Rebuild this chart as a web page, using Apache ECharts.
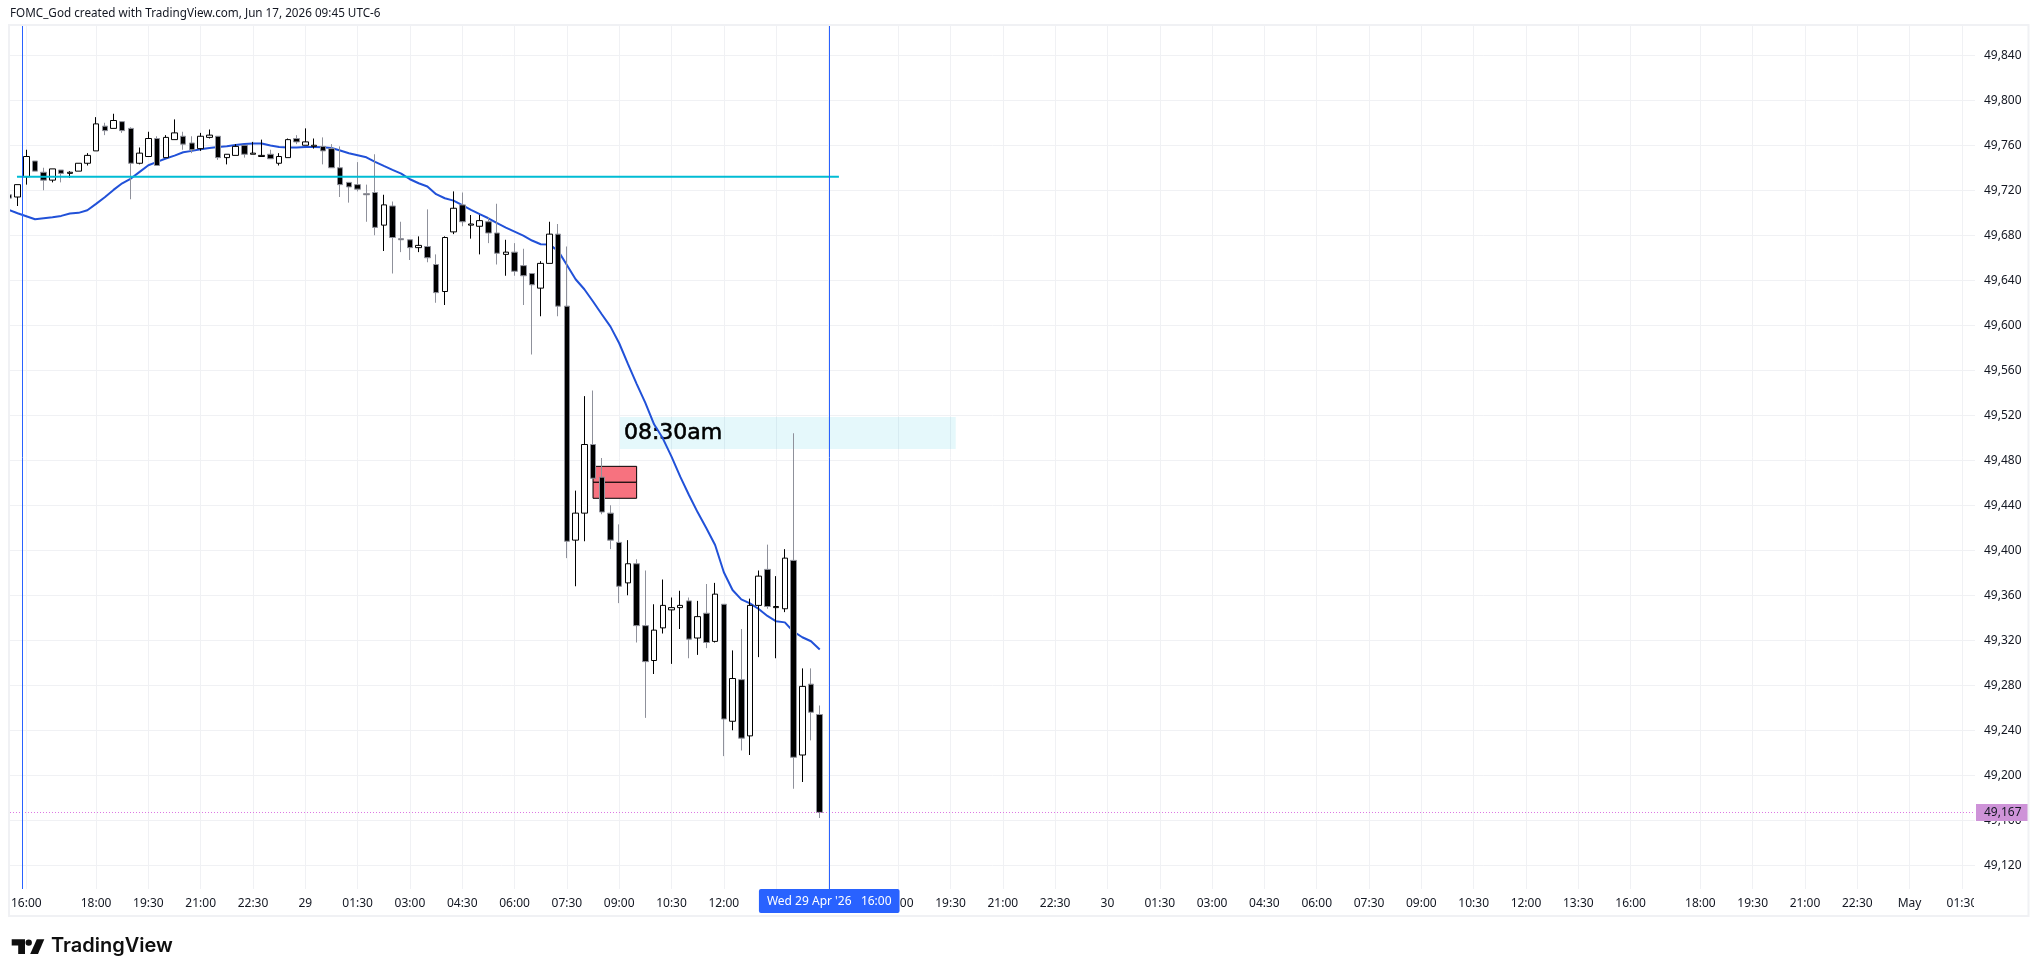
<!DOCTYPE html>
<html>
<head>
<meta charset="utf-8">
<style>html,body{margin:0;padding:0;background:#fff}#c{width:2039px;height:977px}</style>
<script src="https://cdn.jsdelivr.net/npm/echarts@6/dist/echarts.min.js"></script>
</head>
<body>
<div id="c"></div>
<script>
const FIRST_BAR = -2;
const opens = [49716,49714,49732,49746,49736,49729,49738,49735,49737,49744,49755,49777,49775,49781,49775,49744,49750,49766,49749,49765,49768,49762,49757,49767,49768,49749,49751,49760,49752,49750,49752,49744,49749,49766,49760,49759,49759,49757,49740,49727,49725,49717,49718,49689,49706,49677,49676,49669,49670,49654,49630,49683,49707,49689,49688,49692,49682,49663,49665,49653,49646,49633,49655,49681,49617,49409,49433,49494,49465,49433,49407,49371,49388,49333,49302,49331,49347,49349,49355,49322,49344,49319,49352,49248,49285,49235,49351,49383,49349,49348,49391,49218,49281,49254];
const closes = [49713,49725,49750,49737,49729,49739,49735,49736,49744,49751,49779,49773,49782,49773,49744,49753,49766,49742,49767,49771,49761,49756,49768,49769,49749,49752,49759,49752,49753,49751,49748,49750,49765,49763,49763,49760,49755,49740,49725,49723,49721,49716,49687,49707,49678,49676,49669,49671,49660,49629,49678,49704,49692,49690,49693,49682,49664,49665,49648,49644,49636,49655,49681,49617,49408,49433,49494,49464,49434,49409,49368,49388,49333,49301,49329,49351,49349,49351,49321,49341,49318,49361,49250,49286,49233,49351,49377,49350,49350,49393,49216,49279,49256,49167];
const lows = [49713,49706,49725,49737,49720,49727,49727,49731,49737,49742,49755,49769,49775,49771,49712,49743,49750,49742,49749,49765,49756,49753,49755,49766,49747,49743,49751,49749,49752,49750,49748,49742,49749,49761,49760,49757,49743,49740,49714,49709,49719,49692,49680,49666,49646,49665,49658,49665,49656,49620,49618,49681,49688,49677,49663,49673,49654,49644,49644,49618,49574,49608,49655,49608,49393,49368,49408,49464,49432,49401,49353,49360,49318,49251,49290,49326,49299,49330,49304,49307,49313,49318,49217,49240,49222,49218,49305,49348,49304,49345,49188,49194,49231,49162];
const highs = [49716,49725,49756,49746,49740,49739,49738,49737,49744,49753,49785,49780,49788,49781,49776,49758,49772,49768,49769,49783,49772,49768,49771,49774,49768,49752,49761,49760,49763,49765,49756,49753,49766,49769,49775,49766,49767,49761,49759,49727,49745,49725,49752,49716,49710,49692,49676,49679,49703,49663,49679,49719,49718,49698,49698,49696,49708,49676,49673,49668,49646,49657,49692,49690,49670,49453,49537,49542,49482,49440,49423,49409,49392,49382,49352,49374,49358,49364,49358,49355,49370,49371,49352,49311,49330,49357,49382,49405,49377,49401,49504,49295,49295,49262];
const maValues = [49702.5,49699.6,49696.9,49694.2,49695.1,49696,49697.2,49699.3,49699.9,49702.2,49707.9,49713.8,49720.3,49726.2,49730.4,49736.3,49742.2,49745.2,49748.2,49750.8,49753.8,49755,49756.5,49757.6,49758.5,49759.1,49760.3,49761.2,49761.5,49761.5,49759.7,49758.5,49757.9,49757.9,49758.5,49758.5,49758.2,49757.6,49755.3,49752.9,49751.1,49749.3,49745.2,49741.6,49738.1,49734.8,49729.8,49726.2,49723.3,49716.5,49712.9,49710.8,49706.7,49702.5,49698.7,49695.1,49690.7,49686.8,49683.3,49679.7,49675.3,49672,49671.7,49666.1,49653.6,49640.9,49632,49621.1,49609.8,49598.8,49584,49565.6,49547.9,49531,49512,49499.5,49483.2,49465.4,49449.1,49433.7,49419.5,49404.7,49380.4,49364.7,49356.4,49352.8,49347.8,49341.6,49336.8,49335.9,49327.6,49322.7,49319.1,49311.7];

const xTickBars = [0,8,14,20,26,32,38,44,50,56,62,68,74,80,86,92,100,106,112,118,124,130,136,142,148,154,160,166,172,178,184,192,198,204,210,216,222];
const xTickLabels = ['16:00','18:00','19:30','21:00','22:30','29','01:30','03:00','04:30','06:00','07:30','09:00','10:30','12:00','13:30','16:00','18:00','19:30','21:00','22:30','30','01:30','03:00','04:30','06:00','07:30','09:00','10:30','12:00','13:30','16:00','18:00','19:30','21:00','22:30','May','01:30'];
const yTicks = [49120,49160,49200,49240,49280,49320,49360,49400,49440,49480,49520,49560,49600,49640,49680,49720,49760,49800,49840];

const X_RANGE = [-1.87, 223.5];
const Y_RANGE = [49098.9, 49866];
const lastPrice = 49167;
const hLevel = 49732;
const hLevelSpan = [-1.07, 93.2];
const vLineBars = [-0.46, 92.09];
const crosshairLabel = "Wed 29 Apr '26   16:00";
const noteBox = {x: [68.08, 106.6], y: [49490, 49518.5], text: '08:30am'};
const redBoxX = [65, 70];
const redBoxY = [49446.2, 49460.4, 49474.6];
const headerText = 'FOMC_God created with TradingView.com, Jun 17, 2026 09:45 UTC-6';
const logoText = 'TradingView';

const FONT = '"Noto Sans", sans-serif';
const GRID = '#f0f1f4';
const bars = opens.map((o, k) => [FIRST_BAR + k, o, closes[k], lows[k], highs[k]]);
const ma = maValues.map((v, k) => [FIRST_BAR + k, v]);
const fmt = v => v.toLocaleString('en-US');

const chart = echarts.init(document.getElementById('c'), null, {renderer: 'canvas'});
chart.setOption({
  animation: false,
  backgroundColor: '#ffffff',
  title: {text: headerText, left: 10, top: 8, padding: 0,
    textStyle: {fontFamily: FONT, fontSize: 11.7, fontWeight: 'normal', color: '#131722'}},
  grid: {left: 10, right: 64, top: 26, height: 863, containLabel: false},
  xAxis: {
    type: 'value', min: X_RANGE[0], max: X_RANGE[1], position: 'bottom',
    axisLine: {show: false},
    axisTick: {show: false, customValues: xTickBars},
    axisLabel: {customValues: xTickBars, margin: 9, hideOverlap: false, showMinLabel: true, showMaxLabel: true,
      fontFamily: FONT, fontSize: 12, color: '#131722',
      formatter: v => xTickLabels[xTickBars.indexOf(v)]},
    splitLine: {show: true, lineStyle: {color: GRID, width: 1}}
  },
  yAxis: {
    type: 'value', min: Y_RANGE[0], max: Y_RANGE[1], position: 'right',
    axisLine: {show: false},
    axisTick: {show: false, customValues: yTicks},
    axisLabel: {customValues: yTicks, margin: 9, fontFamily: FONT, fontSize: 12, color: '#131722',
      formatter: v => fmt(v)},
    splitLine: {show: true, lineStyle: {color: GRID, width: 1}}
  },
  series: [
    {
      name: 'boxes', type: 'line', data: [], z: 1, silent: true,
      markArea: {
        silent: true, z: 1,
        data: [
          [{xAxis: noteBox.x[0], yAxis: noteBox.y[1], itemStyle: {color: 'rgba(0,188,212,0.1)', borderWidth: 0},
            label: {show: true, position: 'insideLeft', distance: 4, formatter: noteBox.text,
              fontFamily: '"DejaVu Sans", sans-serif', fontSize: 22, color: '#000',
              textBorderColor: '#000', textBorderWidth: 0.6}},
           {xAxis: noteBox.x[1], yAxis: noteBox.y[0]}],
          [{xAxis: redBoxX[0], yAxis: redBoxY[2], itemStyle: {color: '#f7727f', borderColor: '#000', borderWidth: 1}, label: {show: false}},
           {xAxis: redBoxX[1], yAxis: redBoxY[1]}],
          [{xAxis: redBoxX[0], yAxis: redBoxY[1], itemStyle: {color: '#f7727f', borderColor: '#000', borderWidth: 1}, label: {show: false}},
           {xAxis: redBoxX[1], yAxis: redBoxY[0]}]
        ]
      }
    },
    {
      name: 'MA', type: 'line', data: ma, z: 2, symbol: 'none', silent: true, clip: true,
      lineStyle: {color: '#2151d8', width: 2}
    },
    {
      name: 'Price', type: 'candlestick', data: bars, z: 3, barWidth: 6, silent: true, clip: true,
      encode: {x: 0, y: [1, 2, 3, 4]},
      itemStyle: {color: '#ffffff', color0: '#000000', borderColor: '#000000', borderColor0: '#8f919b', borderWidth: 1},
      markLine: {
        silent: true, symbol: 'none', z: 6, precision: 2, animation: false,
        data: [{
          yAxis: lastPrice,
          lineStyle: {type: [1, 2], color: '#dd77e3', width: 1},
          label: {show: true, position: 'end', distance: 1, formatter: fmt(lastPrice), backgroundColor: '#ce93d8',
            color: '#131722', fontFamily: FONT, fontSize: 12, padding: [2, 7, 2, 8], lineHeight: 13}
        }]
      }
    },
    {
      name: 'Level', type: 'line', data: hLevelSpan.map(x => [x, hLevel]), z: 4, symbol: 'none', silent: true,
      lineStyle: {color: '#00bcd4', width: 2}
    },
    {
      name: 'Markers', type: 'line', data: [], z: 5, silent: true,
      markLine: {
        silent: true, symbol: 'none', z: 7, precision: 2, animation: false,
        lineStyle: {type: 'solid', color: '#2962ff', width: 1},
        data: [
          {xAxis: vLineBars[0], label: {show: false}},
          {xAxis: vLineBars[1],
           label: {show: true, position: 'start', rotate: 0, distance: 0, align: 'center', verticalAlign: 'top',
             formatter: crosshairLabel, backgroundColor: '#2962ff', color: '#fff', fontFamily: FONT, fontSize: 12,
             borderRadius: 2, padding: [6, 8, 5, 8], lineHeight: 13}}
        ]
      }
    }
  ],
  graphic: [
    // page margin and price-scale gutter: candles and labels are cut off at the pane edge
    {type: 'rect', z: 8, silent: true, shape: {x: 0, y: 26, width: 9.5, height: 863}, style: {fill: '#fff'}},
    {type: 'rect', z: 8, silent: true, shape: {x: 1974, y: 890, width: 53, height: 25}, style: {fill: '#fff'}},
    {type: 'rect', z: 9, silent: true, shape: {x: 9, y: 25, width: 2019.5, height: 891},
      style: {fill: 'none', stroke: '#f0f1f4', lineWidth: 2}},
    {type: 'polygon', silent: true, shape: {points: [[11.7,939.3],[25,939.3],[25,954],[18.2,954],[18.2,945.6],[11.7,945.6]]}, style: {fill: '#0f0f0f'}},
    {type: 'circle', silent: true, shape: {cx: 28.7, cy: 942.6, r: 3.2}, style: {fill: '#0f0f0f'}},
    {type: 'polygon', silent: true, shape: {points: [[36.8,939.3],[44.3,939.3],[38,954],[30.2,954]]}, style: {fill: '#0f0f0f'}},
    {type: 'text', silent: true, x: 51, y: 936, style: {text: logoText, fill: '#0f0f0f',
      font: '600 20px Inter, sans-serif'}}
  ]
});
</script>
</body>
</html>
